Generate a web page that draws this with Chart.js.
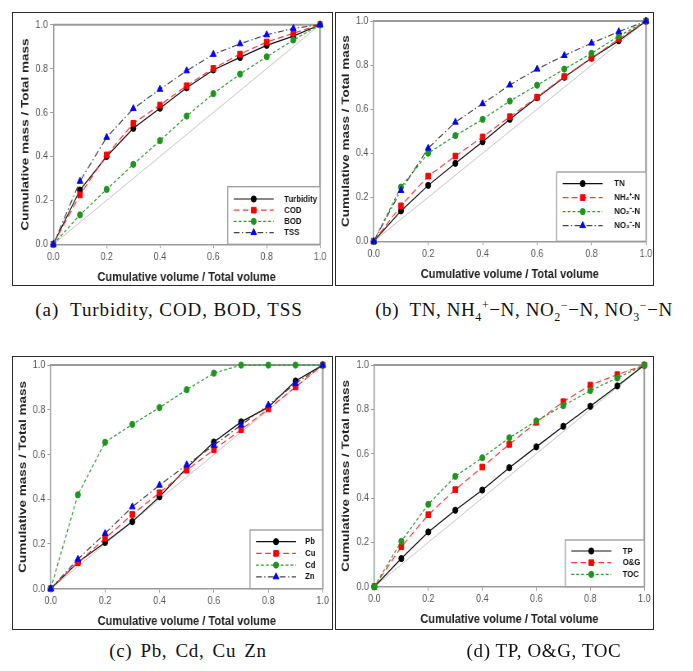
<!DOCTYPE html>
<html><head><meta charset="utf-8">
<script src="https://cdn.jsdelivr.net/npm/chart.js@4.4.1/dist/chart.umd.min.js"></script>
<style>
html,body{margin:0;padding:0;background:#fff;}
body{width:693px;height:671px;position:relative;overflow:hidden;}
.panel{position:absolute;overflow:hidden;background:#fff;}
.frame{position:absolute;border:1.5px solid #2a2a2a;box-sizing:border-box;pointer-events:none;}
.cap{position:absolute;font-family:"Liberation Serif","DejaVu Serif",serif;font-size:19px;color:#111;white-space:nowrap;transform:translate(-50%,-50%);letter-spacing:0.6px;}
.cap sub,.cap sup{font-size:12px;line-height:0;}
</style></head><body>
<div class="panel" id="pa"><canvas id="ca"></canvas></div><div class="frame" id="fa"></div>
<div class="panel" id="pb"><canvas id="cb"></canvas></div><div class="frame" id="fb"></div>
<div class="panel" id="pc"><canvas id="cc"></canvas></div><div class="frame" id="fc"></div>
<div class="panel" id="pd"><canvas id="cd"></canvas></div><div class="frame" id="fd"></div>
<div class="cap" style="left:169px;top:310px;letter-spacing:0.9px;">(a)&nbsp; Turbidity, COD, BOD, TSS</div>
<div class="cap" style="left:524px;top:310px;">(b)&nbsp; TN, NH<sub>4</sub><sup>+</sup>−N, NO<sub>2</sub><sup>−</sup>−N, NO<sub>3</sub><sup>−</sup>−N</div>
<div class="cap" style="left:188px;top:651px;word-spacing:3px;">(c) Pb, Cd, Cu Zn</div>
<div class="cap" style="left:544px;top:651px;">(d) TP, O&amp;G, TOC</div>
<script>
// ---------- DATA ----------
const tickValues = [0, 0.2, 0.4, 0.6, 0.8, 1.0];
const volumeFraction = [0, 0.1, 0.2, 0.3, 0.4, 0.5, 0.6, 0.7, 0.8, 0.9, 1.0];
const diagonal = [0, 1];

const labelsA = ['Turbidity', 'COD', 'BOD', 'TSS'];
const turbidity = [0, 0.247, 0.400, 0.528, 0.620, 0.713, 0.794, 0.851, 0.906, 0.948, 1];
const cod       = [0, 0.225, 0.407, 0.551, 0.634, 0.722, 0.801, 0.866, 0.921, 0.961, 1];
const bod       = [0, 0.134, 0.250, 0.364, 0.472, 0.584, 0.686, 0.775, 0.854, 0.930, 1];
const tss       = [0, 0.287, 0.487, 0.618, 0.706, 0.790, 0.865, 0.913, 0.954, 0.983, 1];

const labelsB = ['TN', 'NH\u2084\u207A-N', 'NO\u2082\u207B-N', 'NO\u2083\u207B-N'];
const tn  = [0, 0.138, 0.254, 0.354, 0.452, 0.554, 0.652, 0.745, 0.832, 0.911, 1];
const nh4 = [0, 0.161, 0.296, 0.387, 0.474, 0.566, 0.655, 0.748, 0.832, 0.919, 1];
const no2 = [0, 0.246, 0.400, 0.480, 0.554, 0.637, 0.709, 0.782, 0.854, 0.932, 1];
const no3 = [0, 0.231, 0.423, 0.541, 0.625, 0.710, 0.782, 0.844, 0.900, 0.952, 1];

const labelsC = ['Pb', 'Cu', 'Cd', 'Zn'];
const pb = [0, 0.118, 0.207, 0.300, 0.411, 0.540, 0.656, 0.746, 0.812, 0.929, 1];
const cu = [0, 0.116, 0.225, 0.332, 0.429, 0.530, 0.622, 0.711, 0.804, 0.902, 1];
const cd = [0, 0.420, 0.655, 0.735, 0.810, 0.890, 0.964, 1.000, 1.000, 1.000, 1];
const zn = [0, 0.132, 0.247, 0.366, 0.463, 0.554, 0.641, 0.732, 0.821, 0.917, 1];

const labelsD = ['TP', 'O&G', 'TOC'];
const tp  = [0, 0.127, 0.247, 0.345, 0.436, 0.537, 0.631, 0.724, 0.814, 0.906, 1];
const og  = [0, 0.180, 0.325, 0.438, 0.540, 0.642, 0.742, 0.835, 0.910, 0.957, 1];
const toc = [0, 0.205, 0.372, 0.498, 0.582, 0.672, 0.748, 0.817, 0.885, 0.942, 1];

// ---------- STYLES ----------
const SQUEEZE = 0.82;
const STY = {
  solid:   {line:'#111111', dash:[],          point:'circle',   color:'#000000', r:3.1},
  red:     {line:'#ff3a3a', dash:[7,4],       point:'rect',     color:'#ff0000', r:4.0},
  green:   {line:'#2a9a2a', dash:[3.5,2.5],   point:'circle',   color:'#1e961e', r:3.1},
  dashdot: {line:'#444444', dash:[7,3,1.5,3], point:'triangle', color:'#0000ff', r:4.0}
};

function drawMarker(ctx, style, x, y, r, color) {
  ctx.save();
  ctx.fillStyle = color; ctx.strokeStyle = color; ctx.lineWidth = 1;
  ctx.beginPath();
  if (style === 'rect') {
    const s = Math.SQRT1_2 * r;
    ctx.rect(x - s, y - s, 2 * s, 2 * s);
  } else if (style === 'triangle') {
    let a = 0;
    ctx.moveTo(x + Math.sin(a) * r, y - Math.cos(a) * r);
    a += 2 * Math.PI / 3; ctx.lineTo(x + Math.sin(a) * r, y - Math.cos(a) * r);
    a += 2 * Math.PI / 3; ctx.lineTo(x + Math.sin(a) * r, y - Math.cos(a) * r);
    ctx.closePath();
  } else {
    ctx.arc(x, y, r, 0, Math.PI * 2);
  }
  ctx.fill(); ctx.stroke();
  ctx.restore();
}

const framePlugin = {
  id: 'plotFrame',
  beforeDatasetsDraw(chart) {
    const a = chart.chartArea, ctx = chart.ctx;
    ctx.save();
    ctx.strokeStyle = '#9a9a9a'; ctx.lineWidth = 2;
    ctx.beginPath();
    ctx.moveTo(a.left, a.top); ctx.lineTo(a.right, a.top); ctx.lineTo(a.right, a.bottom);
    ctx.stroke();
    ctx.restore();
  }
};

const legendPlugin = {
  id: 'boxLegend',
  afterDatasetsDraw(chart, args, o) {
    const ctx = chart.ctx, a = chart.chartArea, sx = o.sx;
    const bw = o.w / sx, bh = o.h;
    const x0 = a.right - bw, y0 = a.bottom - bh;
    ctx.save();
    ctx.fillStyle = '#fff'; ctx.fillRect(x0, y0, bw, bh);
    ctx.strokeStyle = '#9a9a9a'; ctx.lineWidth = 1.3; ctx.strokeRect(x0, y0, bw, bh);
    const items = chart.data.datasets.filter(d => d.inLegend);
    items.forEach((ds, i) => {
      const y = y0 + o.r0 + i * o.dr;
      ctx.setLineDash(ds.borderDash || []);
      ctx.strokeStyle = ds.borderColor; ctx.lineWidth = ds.borderWidth;
      ctx.beginPath(); ctx.moveTo(x0 + 6 / sx, y); ctx.lineTo(x0 + 46 / sx, y); ctx.stroke();
      ctx.setLineDash([]);
      drawMarker(ctx, ds.pointStyle, x0 + 26 / sx, y, ds.pointRadius, ds.pointBackgroundColor);
      ctx.fillStyle = '#111';
      ctx.font = 'bold 9.5px "Liberation Sans", Arial, sans-serif';
      ctx.textBaseline = 'middle'; ctx.textAlign = 'left';
      ctx.fillText(ds.label, x0 + o.tx / sx, y);
    });
    ctx.restore();
  }
};

function series(label, values, sty, idx, n) {
  return {
    label: label,
    data: values.map((v, i) => ({x: volumeFraction[i], y: v})),
    borderColor: sty.line, borderWidth: 1.2, borderDash: sty.dash,
    pointStyle: sty.point, pointRadius: sty.r, pointHoverRadius: sty.r,
    pointBackgroundColor: sty.color, pointBorderColor: sty.color, pointBorderWidth: 1,
    tension: 0, fill: false, clip: false, order: n - idx, inLegend: true
  };
}

function makePanel(pid, fid, cid, cfg) {
  const box = cfg.box;
  const panel = document.getElementById(pid), frame = document.getElementById(fid);
  [panel, frame].forEach(el => {
    el.style.left = box.x + 'px'; el.style.top = box.y + 'px';
    el.style.width = box.w + 'px'; el.style.height = box.h + 'px';
  });
  const cv = document.getElementById(cid);
  const cw = Math.round(box.w / SQUEEZE), ch = box.h;
  const sx = box.w / cw;
  cv.width = cw; cv.height = ch;
  cv.style.width = box.w + 'px'; cv.style.height = box.h + 'px';

  const p = cfg.plot;
  const yW = (p.l - box.x) / sx;
  const xH = (box.y + box.h) - p.b;
  const padR = (box.x + box.w - p.r) / sx;
  const padT = p.t - box.y;
  const tSize = 13.5, tLH = tSize * 1.2;
  const yTitlePad = Math.max(0, (p.l - 28 - box.x) / sx - tLH / 2);
  const xTitlePad = Math.max(0, (box.y + box.h) - (p.b + 32.5) - tLH / 2);

  const datasets = [{
    label: 'equal', data: diagonal.map(v => ({x: v, y: v})),
    borderColor: '#c4c4c4', borderWidth: 1, pointRadius: 0, pointHoverRadius: 0,
    tension: 0, fill: false, order: 99, inLegend: false
  }];
  cfg.series.forEach((s, i) => datasets.push(series(s[0], s[1], s[2], i, cfg.series.length)));

  const tickFont = {size: 11, family: '"Liberation Sans", Arial, sans-serif'};
  const titleFont = {size: tSize, weight: 'bold', family: '"Liberation Sans", Arial, sans-serif'};
  const setTicks = s => { s.ticks = tickValues.map(v => ({value: v})); };

  new Chart(cv, {
    type: 'line',
    data: {datasets},
    options: {
      responsive: false, animation: false, devicePixelRatio: 1,
      layout: {padding: {left: 0, top: padT, right: padR, bottom: 0}},
      plugins: {
        legend: {display: false}, tooltip: {enabled: false},
        boxLegend: Object.assign({sx}, cfg.legend)
      },
      scales: {
        x: {
          type: 'linear', min: 0, max: 1,
          afterBuildTicks: setTicks,
          afterFit: s => { s.height = xH; },
          ticks: {callback: v => v.toFixed(1), font: tickFont, color: '#555', padding: 2, maxRotation: 0, autoSkip: false},
          grid: {drawOnChartArea: false, drawTicks: true, tickLength: 4, color: '#9a9a9a', lineWidth: 1},
          border: {display: true, color: '#9a9a9a', width: 1.5},
          title: {display: true, text: 'Cumulative volume / Total volume', font: titleFont, color: '#222', padding: {top: 0, bottom: xTitlePad}}
        },
        y: {
          type: 'linear', min: 0, max: 1,
          afterBuildTicks: setTicks,
          afterFit: s => { s.width = yW; },
          ticks: {callback: v => v.toFixed(1), font: tickFont, color: '#555', padding: 2.5, autoSkip: false},
          grid: {drawOnChartArea: false, drawTicks: true, tickLength: 4, color: '#9a9a9a', lineWidth: 1},
          border: {display: true, color: '#9a9a9a', width: 1.5},
          title: {display: true, text: 'Cumulative mass / Total mass', font: titleFont, color: '#222', padding: {top: yTitlePad, bottom: 0}}
        }
      }
    },
    plugins: [framePlugin, legendPlugin]
  });
}

makePanel('pa', 'fa', 'ca', {
  box: {x: 12, y: 12, w: 321, h: 274},
  plot: {l: 53.3, r: 320, t: 24.7, b: 244.3},
  legend: {w: 92.3, h: 57.6, r0: 12.3, dr: 11.2, tx: 56.5},
  series: [[labelsA[0], turbidity, STY.solid], [labelsA[1], cod, STY.red], [labelsA[2], bod, STY.green], [labelsA[3], tss, STY.dashdot]]
});
makePanel('pb', 'fb', 'cb', {
  box: {x: 335, y: 12, w: 319, h: 274},
  plot: {l: 373.7, r: 646, t: 19.3, b: 241.3},
  legend: {w: 89.3, h: 69.3, r0: 11.6, dr: 14, tx: 57.6},
  series: [[labelsB[0], tn, STY.solid], [labelsB[1], nh4, STY.red], [labelsB[2], no2, STY.green], [labelsB[3], no3, STY.dashdot]]
});
makePanel('pc', 'fc', 'cc', {
  box: {x: 12, y: 356, w: 321, h: 274},
  plot: {l: 50.7, r: 322.7, t: 364.7, b: 588.7},
  legend: {w: 72.7, h: 58.7, r0: 11.7, dr: 11.7, tx: 55},
  series: [[labelsC[0], pb, STY.solid], [labelsC[1], cu, STY.red], [labelsC[2], cd, STY.green], [labelsC[3], zn, STY.dashdot]]
});
makePanel('pd', 'fd', 'cd', {
  box: {x: 335, y: 356, w: 319, h: 274},
  plot: {l: 374.3, r: 644.3, t: 364.3, b: 586.7},
  legend: {w: 79, h: 46.7, r0: 11, dr: 11.7, tx: 57.3},
  series: [[labelsD[0], tp, STY.solid], [labelsD[1], og, STY.red], [labelsD[2], toc, STY.green]]
});
</script>
</body></html>
